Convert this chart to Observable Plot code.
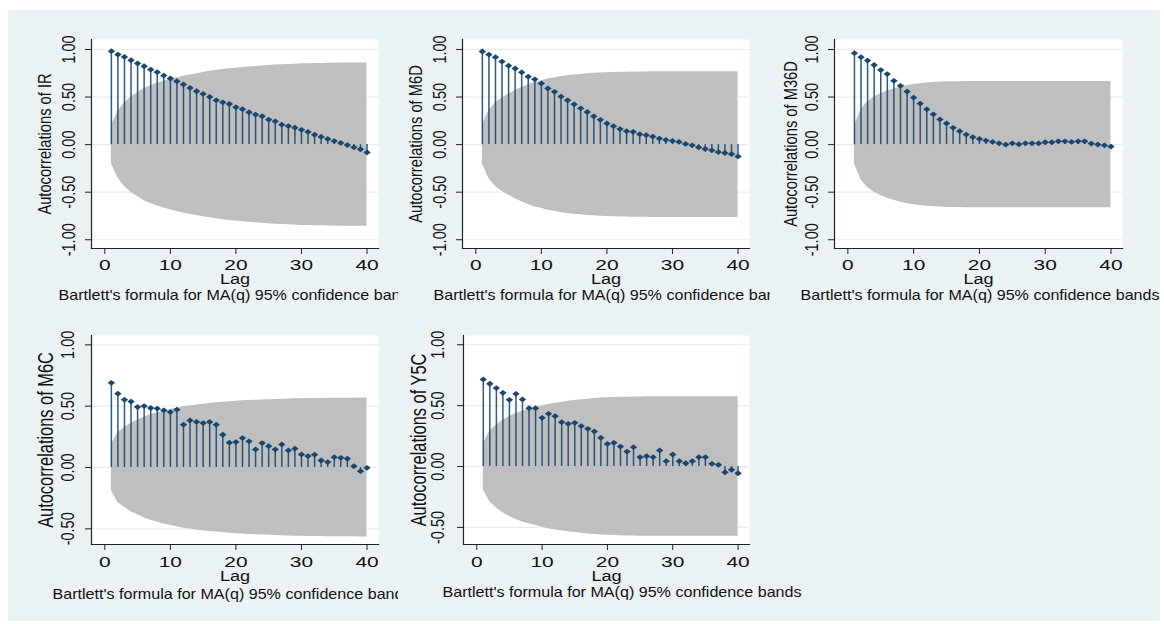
<!DOCTYPE html>
<html><head><meta charset="utf-8">
<script src="https://cdn.jsdelivr.net/npm/d3@7"></script>
<script src="https://cdn.jsdelivr.net/npm/@observablehq/plot@0.6"></script>
<style>
html,body{margin:0;padding:0;background:#fff;}
#root{position:relative;width:1164px;height:624px;overflow:hidden;font-family:"Liberation Sans",Arial,sans-serif;}
#bg{position:absolute;left:8px;top:10px;width:1152px;height:611px;background:#eaf2f3;}
.panel{position:absolute;overflow:hidden;}
.panel svg{overflow:hidden;display:block;}
</style></head><body>
<div id="root"><div id="bg"></div></div>
<script>
// ---------- data ----------
const lags = d3.range(1, 41);
const xTicks = [0, 10, 20, 30, 40];
const yTicksTop = [-1, -0.5, 0, 0.5, 1];
const yTicksBottom = [-0.5, 0, 0.5, 1];
const xLabel = "Lag";
const captionText = "Bartlett's formula for MA(q) 95% confidence bands";
const varNames = ["IR", "M6D", "M36D", "M6C", "Y5C"];

const acfIR = [0.982,0.947,0.922,0.887,0.853,0.824,0.789,0.761,0.726,0.695,0.666,0.632,0.596,0.561,0.533,0.501,0.466,0.445,0.427,0.393,0.372,0.340,0.316,0.298,0.263,0.245,0.210,0.195,0.178,0.155,0.133,0.105,0.082,0.060,0.037,0.018,-0.005,-0.028,-0.050,-0.082];
const acfM6D = [0.979,0.947,0.919,0.873,0.830,0.800,0.760,0.714,0.686,0.643,0.590,0.555,0.505,0.466,0.424,0.382,0.343,0.297,0.261,0.223,0.194,0.163,0.141,0.134,0.110,0.099,0.085,0.064,0.049,0.039,0.028,0.007,-0.007,-0.028,-0.046,-0.060,-0.078,-0.088,-0.099,-0.124];
const acfM36D = [0.961,0.919,0.883,0.837,0.784,0.742,0.671,0.618,0.558,0.495,0.431,0.371,0.318,0.265,0.223,0.177,0.141,0.106,0.078,0.060,0.042,0.028,0.014,0.000,0.014,0.004,0.014,0.014,0.014,0.025,0.025,0.035,0.035,0.028,0.035,0.035,0.011,0.000,-0.007,-0.021];
const acfM6C = [0.690,0.602,0.553,0.537,0.493,0.501,0.485,0.480,0.466,0.452,0.471,0.349,0.384,0.371,0.362,0.371,0.349,0.267,0.202,0.207,0.240,0.213,0.147,0.199,0.174,0.147,0.188,0.139,0.153,0.106,0.093,0.104,0.057,0.044,0.084,0.079,0.071,0.011,-0.030,-0.003];
const acfY5C = [0.715,0.680,0.644,0.605,0.548,0.597,0.551,0.479,0.479,0.400,0.433,0.414,0.364,0.351,0.359,0.332,0.310,0.288,0.236,0.186,0.195,0.164,0.123,0.159,0.077,0.085,0.077,0.132,0.044,0.099,0.044,0.027,0.044,0.077,0.077,0.022,0.014,-0.047,-0.027,-0.055];

// upper 95% confidence band (lower band is its mirror)
const bandIR = [0.20,0.35,0.44,0.50,0.545,0.59,0.62,0.645,0.667,0.686,0.703,0.72,0.733,0.746,0.758,0.77,0.78,0.789,0.797,0.804,0.811,0.817,0.822,0.827,0.832,0.836,0.84,0.843,0.846,0.849,0.851,0.853,0.854,0.855,0.856,0.857,0.858,0.858,0.859,0.859];
const bandM6D = [0.20,0.36,0.44,0.49,0.53,0.57,0.60,0.63,0.655,0.67,0.69,0.70,0.715,0.725,0.732,0.738,0.744,0.749,0.753,0.756,0.758,0.76,0.762,0.763,0.764,0.764,0.765,0.765,0.765,0.765,0.765,0.765,0.765,0.765,0.765,0.765,0.765,0.765,0.765,0.765];
const bandM36D = [0.20,0.37,0.45,0.50,0.535,0.565,0.585,0.605,0.62,0.632,0.641,0.648,0.653,0.657,0.66,0.661,0.662,0.663,0.663,0.663,0.663,0.663,0.663,0.663,0.663,0.663,0.663,0.663,0.663,0.663,0.663,0.663,0.663,0.663,0.663,0.663,0.663,0.663,0.663,0.663];
const bandM6C = [0.19,0.285,0.325,0.36,0.385,0.41,0.43,0.445,0.46,0.472,0.483,0.495,0.502,0.51,0.516,0.521,0.527,0.531,0.536,0.54,0.543,0.546,0.549,0.551,0.553,0.555,0.557,0.558,0.56,0.561,0.562,0.563,0.563,0.564,0.564,0.565,0.565,0.565,0.566,0.566];
const bandY5C = [0.19,0.29,0.34,0.38,0.41,0.435,0.455,0.47,0.485,0.498,0.51,0.52,0.528,0.536,0.542,0.548,0.553,0.558,0.562,0.565,0.567,0.569,0.57,0.571,0.572,0.573,0.573,0.573,0.573,0.573,0.573,0.573,0.573,0.573,0.573,0.573,0.573,0.573,0.573,0.573];

// ---------- styling ----------
const NAVY = "#1a476f";
const BAND = "#bfbfbf";
const GRID = "#e6eef0";
const AXIS = "#222";
const xDomain = [-2.03, 41.75];

const wideDiamond = {
  draw(ctx, size) {
    const r = Math.sqrt(size / Math.PI), w = r * 1.28;
    ctx.moveTo(-w, 0); ctx.lineTo(0, -r); ctx.lineTo(w, 0); ctx.lineTo(0, r); ctx.closePath();
  }
};

const panels = [
  {acf: acfIR,  band: bandIR,  name: varNames[0], left: 8,   top: 10,  width: 390, height: 300, mL: 83, mR: 20, mT: 29, mB: 62, yDomain: [-1.092, 1.105], yTicks: yTicksTop,    capDx: -33, capDy: 47, titleDx: -47, ytDx: -22.5, xPad: 4, lagDy: 31, titleSize: 14.7},
  {acf: acfM6D, band: bandM6D, name: varNames[1], left: 398, top: 10,  width: 372, height: 300, mL: 64, mR: 21, mT: 29, mB: 62, yDomain: [-1.092, 1.105], yTicks: yTicksTop,    capDx: -29, capDy: 47, titleDx: -47, ytDx: -22,   xPad: 4, lagDy: 31, titleSize: 14.7},
  {acf: acfM36D,band: bandM36D,name: varNames[2], left: 770, top: 10,  width: 390, height: 300, mL: 64, mR: 38, mT: 29, mB: 62, yDomain: [-1.092, 1.105], yTicks: yTicksTop,    capDx: -34, capDy: 47, titleDx: -44, ytDx: -22,   xPad: 4, lagDy: 31, titleSize: 14.7},
  {acf: acfM6C, band: bandM6C, name: varNames[3], left: 8,   top: 310, width: 390, height: 311, mL: 83, mR: 20, mT: 25, mB: 77, yDomain: [-0.628, 1.076], yTicks: yTicksBottom, capDx: -39, capDy: 50, titleDx: -45, ytDx: -23.5, xPad: 5, lagDy: 32, titleSize: 16.4},
  {acf: acfY5C, band: bandY5C, name: varNames[4], left: 398, top: 310, width: 412, height: 311, mL: 65, mR: 61, mT: 25, mB: 77, yDomain: [-0.64, 1.076],  yTicks: yTicksBottom, capDx: -21, capDy: 48, titleDx: -44, ytDx: -25,   xPad: 5, lagDy: 32, titleSize: 16.4}
];

// horizontal stretch of each text around its own anchor (the reference is widened)
function stretchText(t, sx) {
  let tr = t.getAttribute("transform");
  if (!tr) {
    const x = +t.getAttribute("x") || 0, y = +t.getAttribute("y") || 0;
    t.removeAttribute("x"); t.removeAttribute("y");
    tr = `translate(${x},${y})`;
  }
  const m = tr.match(/^\s*(translate\([^)]*\))(.*)$/);
  t.setAttribute("transform", m ? `${m[1]} scale(${sx},1)${m[2]}` : `${tr} scale(${sx},1)`);
}
function stretchAll(svg) {
  svg.querySelectorAll("text").forEach(t => {
    const s = t.textContent;
    let sx = 1.2;
    if (s.startsWith("Bartlett")) sx = 1.15;
    else if (s.startsWith("Autocorr")) sx = 1.3;
    else if (s === xLabel) sx = 1.17;
    else if (/^-?\d+\.\d\d$/.test(s)) sx = 1.28;
    else if (/^\d+$/.test(s)) sx = 1.35;
    stretchText(t, sx);
  });
}

const root = document.getElementById("root");
for (const p of panels) {
  const data = lags.map((lag, i) => ({lag, r: p.acf[i], hi: p.band[i], lo: -p.band[i]}));
  const svg = Plot.plot({
    width: p.width, height: p.height,
    marginLeft: p.mL, marginRight: p.mR, marginTop: p.mT, marginBottom: p.mB,
    style: {background: "transparent", overflow: "hidden", fontFamily: "'Liberation Sans', Arial, sans-serif", color: "#111"},
    x: {type: "linear", domain: xDomain},
    y: {type: "linear", domain: p.yDomain},
    marks: [
      Plot.frame({fill: "white", stroke: null}),
      Plot.gridY({ticks: p.yTicks, stroke: GRID, strokeOpacity: 1, strokeWidth: 1.2}),
      Plot.areaY(data, {x: "lag", y1: "lo", y2: "hi", fill: BAND}),
      Plot.ruleX(data, {x: "lag", y1: 0, y2: "r", stroke: NAVY, strokeWidth: 1.5, strokeOpacity: 0.9}),
      Plot.dot(data, {x: "lag", y: "r", symbol: wideDiamond, r: 2.9, fill: NAVY, stroke: null}),
      Plot.frame({anchor: "left", stroke: AXIS, strokeWidth: 1.2}),
      Plot.frame({anchor: "bottom", stroke: AXIS, strokeWidth: 1.2}),
      Plot.axisX({ticks: xTicks, tickSize: 6, tickPadding: p.xPad, fontSize: 15.5, label: null, stroke: AXIS}),
      Plot.axisY({ticks: p.yTicks, tickSize: 6, tickFormat: () => "", label: null, stroke: AXIS}),
      Plot.text(p.yTicks, {y: d => d, text: d => d.toFixed(2), frameAnchor: "left", dx: p.ytDx, rotate: -90, textAnchor: "middle", lineAnchor: "middle", fontSize: 14.5}),
      Plot.text([`Autocorrelations of ${p.name}`], {text: d => d, frameAnchor: "left", dx: p.titleDx, rotate: -90, textAnchor: "middle", lineAnchor: "middle", fontSize: p.titleSize}),
      Plot.text([xLabel], {text: d => d, frameAnchor: "bottom", dy: p.lagDy, lineAnchor: "middle", fontSize: 15.5}),
      Plot.text([captionText], {text: d => d, frameAnchor: "bottom-left", dx: p.capDx, dy: p.capDy, textAnchor: "start", lineAnchor: "middle", fontSize: 14})
    ]
  });
  stretchAll(svg);
  const div = document.createElement("div");
  div.className = "panel";
  div.style.left = p.left + "px";
  div.style.top = p.top + "px";
  div.style.width = p.width + "px";
  div.style.height = p.height + "px";
  div.appendChild(svg);
  root.appendChild(div);
}
</script>
</body></html>
